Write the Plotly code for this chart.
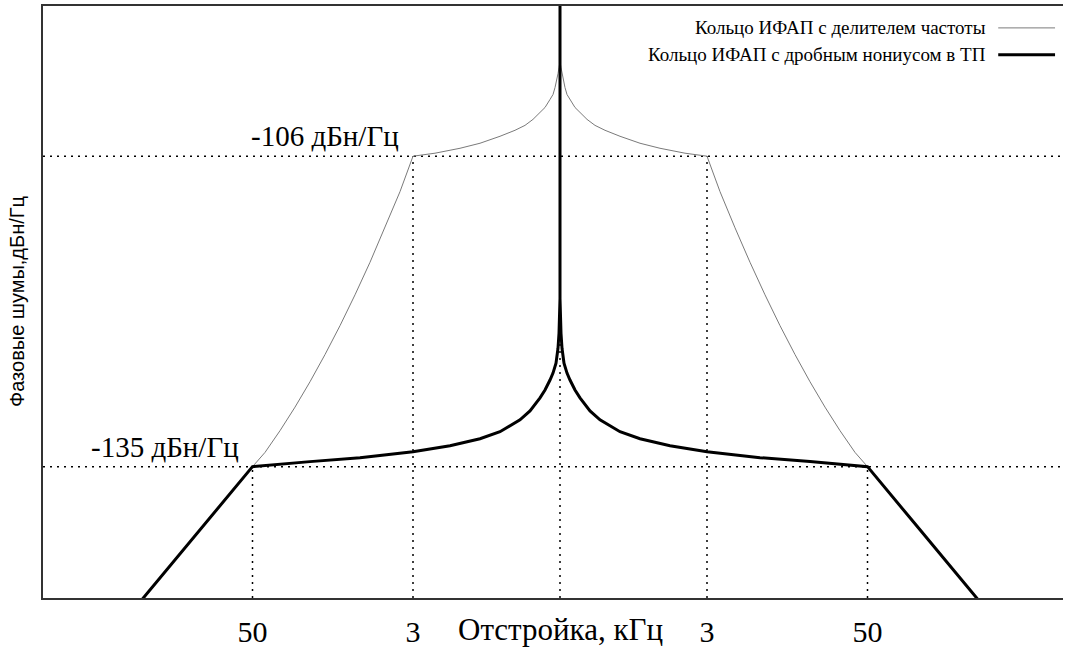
import plotly.graph_objects as go

# ---- data (schematic phase-noise spectra, offset in plot units, level in dBc/Hz) ----
# offset positions of the corner frequencies on the (schematic) offset axis
CORNER_POS = [1.47, 3.075]          # 3 kHz, 50 kHz
CORNER_LEVEL = [-106, -135]         # dBc/Hz
TICK_TEXT = ["50", "3", "3", "50"]

# thin curve: PLL with frequency divider (one half, distance from carrier)
thin_d = [0.0, 0.01, 0.02, 0.03, 0.05, 0.07, 0.10, 0.15, 0.20, 0.27, 0.35, 0.45, 0.60, 0.80,
          1.00, 1.25, 1.47,
          1.60, 1.75, 1.90, 2.05, 2.20, 2.35, 2.50, 2.65, 2.80, 2.95, 3.075]
thin_db = [-97.17, -97.73, -98.29, -98.84, -99.59, -100.24, -100.70, -101.45, -101.91, -102.56,
           -103.12, -103.58, -104.14, -104.79, -105.26, -105.72, -106.0,
           -109.31, -112.69, -115.91, -118.95, -121.83, -124.53, -127.07, -129.44, -131.64,
           -133.67, -135.0]

# thick curve: PLL with fractional vernier in feedback path
thick_d = [0.0, 0.0, 0.01, 0.02, 0.04, 0.07, 0.10, 0.15, 0.20, 0.30, 0.40, 0.60, 0.80, 1.10,
           1.47, 2.00, 2.50, 3.075, 3.60, 4.17, 4.25]
thick_db = [-88.0, -119.29, -122.54, -123.94, -125.33, -126.26, -126.91, -127.84, -128.58,
            -129.79, -130.63, -131.74, -132.39, -133.04, -133.60, -134.16, -134.53, -135.0,
            -140.9, -147.3, -148.2]

NAMES = ["Кольцо ИФАП с делителем частоты", "Кольцо ИФАП с дробным нониусом в ТП"]
LABELS = ["-106 дБн/Гц", "-135 дБн/Гц"]

X_RANGE = [-5.17, 5.03]
Y_RANGE = [-147.27, -91.97]


def mirror(d, v):
    xs = [-a for a in reversed(d)] + d[1:]
    ys = list(reversed(v)) + v[1:]
    return xs, ys


SERIF = "Liberation Serif, Times New Roman, serif"
SANS = "Liberation Sans, Arial, sans-serif"

fig = go.Figure()
tx, ty = mirror(thin_d, thin_db)
fig.add_trace(go.Scatter(x=tx, y=ty, mode="lines", name=NAMES[0],
                         line=dict(color="#7a7a7a", width=1), showlegend=False))
kx, ky = mirror(thick_d, thick_db)
fig.add_trace(go.Scatter(x=kx, y=ky, mode="lines", name=NAMES[1],
                         line=dict(color="black", width=3), showlegend=False))

dot = dict(color="black", width=1.5, dash="2px,5px")
shapes = []
for pos, lev in zip(CORNER_POS, CORNER_LEVEL):
    shapes.append(dict(type="line", xref="paper", yref="y", x0=0, x1=1, y0=lev, y1=lev, line=dot, layer="below"))
    for s in (-1, 1):
        shapes.append(dict(type="line", xref="x", yref="y", x0=s * pos, x1=s * pos,
                           y0=Y_RANGE[0], y1=lev, line=dot, layer="below"))
shapes.append(dict(type="line", xref="x", yref="y", x0=0, x1=0, y0=Y_RANGE[0], y1=CORNER_LEVEL[0],
                   line=dot, layer="below"))

# legend (text right of which the line sample is drawn)
leg_y = [0.963, 0.9176]
leg_w = [1, 3]
leg_c = ["#7a7a7a", "black"]
annotations = []
for name, yy, w, c in zip(NAMES, leg_y, leg_w, leg_c):
    annotations.append(dict(xref="paper", yref="paper", x=0.9265, y=yy, text=name, showarrow=False,
                            xanchor="right", yanchor="middle", font=dict(family=SERIF, size=19, color="black")))
    shapes.append(dict(type="line", xref="paper", yref="paper", x0=0.9365, x1=0.9922, y0=yy, y1=yy,
                       line=dict(color=c, width=w)))

for pos, lev, lab in zip(CORNER_POS, CORNER_LEVEL, LABELS):
    annotations.append(dict(x=-pos, y=lev, text=lab, showarrow=False, xanchor="right", yanchor="bottom",
                            xshift=-12, yshift=2, font=dict(family=SERIF, size=29, color="black")))

annotations.append(dict(x=0, y=0, xref="x", yref="paper", text="Отстройка, кГц", showarrow=False,
                        xanchor="center", yanchor="middle", yshift=-31,
                        font=dict(family=SERIF, size=31, color="black")))
annotations.append(dict(x=0, y=0.5, xref="paper", yref="paper", text="Фазовые шумы,дБн/Гц", showarrow=False,
                        xanchor="center", yanchor="middle", xshift=-26, textangle=-90,
                        font=dict(family=SANS, size=20, color="black")))

fig.update_layout(
    width=1065, height=650,
    margin=dict(l=43, r=2, t=6, b=49),
    paper_bgcolor="white", plot_bgcolor="white",
    shapes=shapes, annotations=annotations,
    xaxis=dict(range=X_RANGE, showgrid=False, zeroline=False, showline=True, mirror=True,
               linecolor="#333", linewidth=2, ticks="",
               tickvals=[-CORNER_POS[1], -CORNER_POS[0], CORNER_POS[0], CORNER_POS[1]],
               ticktext=TICK_TEXT, ticklabelstandoff=6,
               tickfont=dict(family=SERIF, size=30, color="black")),
    yaxis=dict(range=Y_RANGE, showgrid=False, zeroline=False, showline=True, mirror=False,
               linecolor="#333", linewidth=2, showticklabels=False, ticks=""),
)

fig.write_html("out.html", config={"displayModeBar": False},
               post_script="document.body.style.margin='0';document.body.style.overflow='hidden';")
